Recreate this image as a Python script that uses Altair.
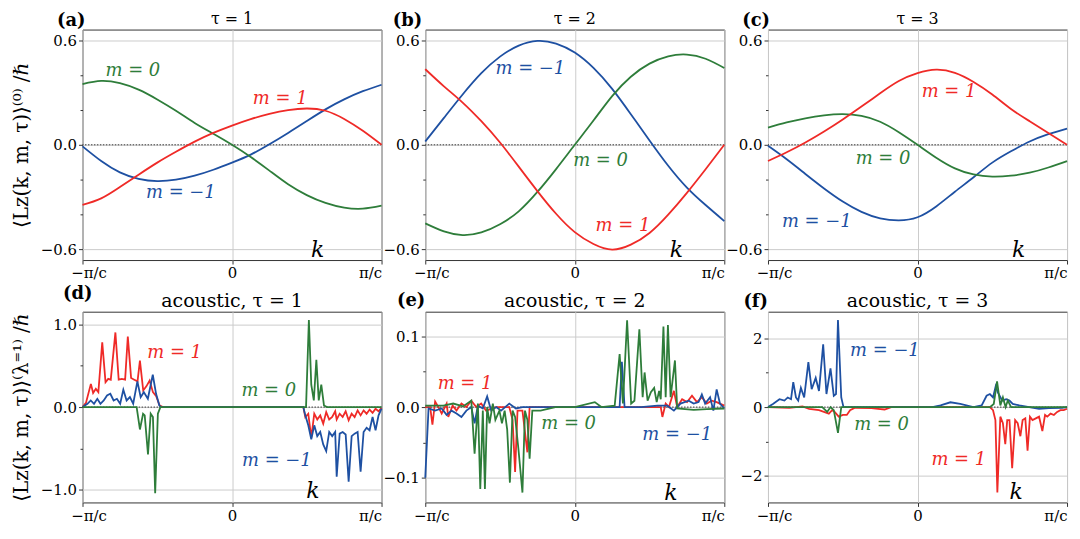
import altair as alt
import pandas as pd

FONT = "DejaVu Serif"
M_NAMES = ["m = −1", "m = 0", "m = 1"]
M_COLORS = ["#1e50a2", "#2e7d3a", "#ef2a27"]

# ---------------- top row: smooth curves, k in units of pi/c ----------------
K_TOP = [-1.0, -0.875, -0.75, -0.625, -0.5, -0.375, -0.25, -0.125, 0.0,
         0.125, 0.25, 0.375, 0.5, 0.625, 0.75, 0.875, 1.0]

A_MM1 = [-0.009, -0.093, -0.158, -0.195, -0.208, -0.2, -0.177, -0.143, -0.102,
         -0.056, 0.003, 0.068, 0.136, 0.203, 0.26, 0.307, 0.344]
A_M0 = [0.348, 0.366, 0.353, 0.316, 0.26, 0.195, 0.125, 0.063, 0.0,
        -0.07, -0.148, -0.226, -0.288, -0.333, -0.36, -0.366, -0.349]
A_M1 = [-0.344, -0.307, -0.242, -0.171, -0.102, -0.04, 0.018, 0.068, 0.11,
        0.147, 0.177, 0.199, 0.208, 0.195, 0.148, 0.08, 0.0]

B_MM1 = [0.019, 0.154, 0.288, 0.41, 0.505, 0.568, 0.595, 0.58, 0.528,
         0.44, 0.32, 0.175, 0.025, -0.12, -0.245, -0.345, -0.437]
B_M0 = [-0.45, -0.496, -0.517, -0.502, -0.455, -0.381, -0.27, -0.139, 0.0,
        0.139, 0.279, 0.39, 0.465, 0.507, 0.517, 0.493, 0.44]
B_M1 = [0.433, 0.335, 0.242, 0.135, 0.013, -0.125, -0.265, -0.395, -0.5,
        -0.568, -0.6, -0.572, -0.505, -0.4, -0.275, -0.14, 0.0]

C_MM1 = [-0.006, -0.083, -0.167, -0.25, -0.325, -0.384, -0.421, -0.433, -0.415,
         -0.353, -0.269, -0.186, -0.102, -0.037, 0.019, 0.061, 0.093]
C_M0 = [0.098, 0.128, 0.152, 0.169, 0.176, 0.165, 0.132, 0.072, 0.0,
        -0.074, -0.135, -0.17, -0.182, -0.177, -0.16, -0.13, -0.093]
C_M1 = [-0.093, -0.043, 0.013, 0.076, 0.145, 0.219, 0.295, 0.365, 0.41,
        0.43, 0.412, 0.36, 0.288, 0.205, 0.135, 0.068, 0.0]

# ---------------- bottom row: acoustic branch (noisy) ----------------
D_MM1_K = [-1.0, -0.967, -0.945, -0.923, -0.901, -0.880, -0.858, -0.836, -0.814, -0.792,
           -0.770, -0.748, -0.727, -0.705, -0.683, -0.661, -0.633, -0.611, -0.590, -0.563,
           -0.530, -0.508, -0.486, -0.475,
           0.477, 0.49, 0.51, 0.53, 0.55, 0.57, 0.59, 0.61, 0.63, 0.65, 0.67, 0.69, 0.70,
           0.72, 0.74, 0.76, 0.78, 0.80, 0.82, 0.84, 0.86, 0.88, 0.90, 0.92, 0.94, 0.96,
           0.98, 1.0]
D_MM1 = [0.0, 0.04, 0.08, 0.04, 0.10, 0.04, 0.08, 0.14, 0.16, 0.08,
         0.10, 0.04, 0.21, 0.08, 0.12, 0.04, 0.31, 0.12, 0.18, 0.10,
         0.39, 0.16, 0.02, 0.0,
         0.0, -0.10, -0.22, -0.39, -0.22, -0.35, -0.30, -0.45, -0.53, -0.30, -0.35, -0.30, -0.84,
         -0.32, -0.30, -0.33, -0.90, -0.35, -0.32, -0.30, -0.78, -0.30, -0.25, -0.28, -0.12, -0.28,
         -0.10, -0.02]
D_M0_K = [-1.0, -0.638, -0.616, -0.595, -0.584, -0.562, -0.544, -0.529, -0.514, -0.496, -0.479,
          0.477, 0.495, 0.514, 0.53, 0.547, 0.564, 0.58, 0.597, 0.615, 0.635, 1.0]
D_M0 = [0.0, 0.0, -0.27, -0.08, -0.10, -0.57, -0.08, -0.12, -1.04, -0.08, 0.0,
        0.0, 0.0, 1.05, 0.27, 0.08, 0.57, 0.08, 0.27, 0.02, 0.0, 0.0]
D_M1_K = [-1.0, -0.977, -0.944, -0.929, -0.911, -0.894, -0.868, -0.846, -0.828, -0.811,
          -0.780, -0.758, -0.737, -0.715, -0.697, -0.675, -0.654, -0.632, -0.616, -0.594,
          -0.573, -0.551, -0.529, -0.507, -0.485, -0.463,
          0.477, 0.49, 0.51, 0.53, 0.55, 0.57, 0.59, 0.61, 0.63, 0.65, 0.67, 0.69, 0.70,
          0.72, 0.74, 0.76, 0.78, 0.80, 0.82, 0.84, 0.86, 0.88, 0.90, 0.92, 0.94, 0.96,
          0.98, 1.0]
D_M1 = [0.0, 0.05, 0.28, 0.17, 0.22, 0.18, 0.78, 0.30, 0.34, 0.33,
        0.90, 0.33, 0.34, 0.33, 0.85, 0.35, 0.33, 0.31, 0.56, 0.20,
        0.25, 0.32, 0.18, 0.13, 0.02, 0.0,
        0.0, -0.12, -0.08, -0.37, -0.08, -0.15, -0.10, -0.20, -0.06, -0.15, -0.12, -0.05, -0.15,
        -0.08, -0.12, -0.05, -0.16, -0.08, -0.12, -0.04, -0.10, -0.04, -0.08, -0.03, -0.07, -0.02,
        -0.05, -0.01]

E_MM1_K = [-1.0, -0.978, -0.934, -0.890, -0.857, -0.824, -0.791, -0.758, -0.725, -0.692,
           -0.670, -0.648, -0.615, -0.586, -0.559, -0.526, -0.493, -0.438, -0.394, -0.350,
           0.300, 0.315, 0.333, 0.443, 0.553, 0.619, 0.663, 0.707, 0.762, 0.795,
           0.828, 0.850, 0.872, 0.905, 0.927, 0.949, 0.971, 1.0]
E_MM1 = [-0.100, -0.002, -0.005, -0.002, -0.011, -0.005, -0.009, -0.014, -0.005, 0.0,
         -0.023, 0.002, -0.002, 0.015, -0.005, 0.0, -0.005, 0.005, -0.002, 0.0,
         0.0, 0.064, 0.0, 0.0, 0.002, 0.002, -0.005, 0.005, 0.009, 0.005,
         0.007, 0.018, 0.005, 0.014, -0.005, 0.025, 0.005, -0.002]
E_M0_K = [-1.0, -0.879, -0.813, -0.747, -0.692, -0.670, -0.648, -0.632, -0.615, -0.601,
          -0.586, -0.570, -0.548, -0.531, -0.504, -0.487, -0.469, -0.452, -0.434, -0.416,
          -0.399, -0.377, -0.350, -0.333, -0.317, -0.302, -0.284, -0.229, -0.130, 0.0,
          0.134, 0.178, 0.267, 0.300, 0.322, 0.350, 0.377, 0.399, 0.432, 0.454,
          0.467, 0.487, 0.509, 0.531, 0.548, 0.564, 0.575, 0.593, 0.608, 0.623,
          0.641, 0.670, 0.685, 0.795, 0.883, 1.0]
E_M0 = [0.002, 0.002, 0.005, 0.001, 0.009, -0.066, 0.005, -0.116, -0.005, -0.116,
        0.0, -0.023, 0.005, -0.018, -0.005, -0.023, -0.005, -0.032, -0.107, -0.005,
        -0.014, -0.059, -0.121, -0.005, -0.018, -0.073, -0.005, -0.005, 0.0, 0.0,
        0.007, 0.0, 0.002, 0.075, 0.005, 0.123, 0.005, 0.009, 0.110, 0.014,
        0.049, 0.009, 0.021, 0.027, 0.007, 0.023, 0.011, 0.114, 0.014, 0.116,
        0.014, 0.066, -0.002, -0.004, -0.003, -0.002]
E_M1_K = [-1.0, -0.967, -0.952, -0.934, -0.912, -0.890, -0.857, -0.846, -0.817, -0.791,
          -0.758, -0.725, -0.692, -0.659, -0.626, -0.593, -0.526, -0.438, -0.416, -0.399,
          -0.383, -0.350, -0.317, -0.302,
          0.575, 0.586, 0.608, 0.630, 0.663, 0.685, 0.718, 0.751, 0.784, 0.817,
          0.850, 0.883, 0.916, 0.949, 1.0]
E_M1 = [0.0, 0.0, -0.025, 0.008, 0.0, -0.009, 0.005, -0.014, 0.002, -0.005,
        0.005, 0.0, 0.009, 0.0, 0.005, -0.005, 0.0, 0.0, -0.018, -0.092,
        -0.005, -0.005, -0.064, 0.0,
        0.0, -0.014, 0.005, 0.0, 0.023, 0.0, 0.011, 0.007, 0.016, 0.007,
        0.014, 0.005, 0.009, 0.007, 0.002]

F_MM1_K = [-1.0, -0.967, -0.923, -0.890, -0.868, -0.846, -0.831, -0.813, -0.798, -0.780,
           -0.758, -0.730, -0.708, -0.681, -0.659, -0.631, -0.609, -0.582, -0.560, -0.545,
           -0.532, -0.510, -0.495, 0.099, 0.154, 0.220, 0.286, 0.374, 0.429, 0.462,
           0.484, 0.505, 0.523, 0.538, 0.567, 0.593, 0.615, 0.637, 0.681, 0.747,
           0.813, 0.879, 0.967, 1.0]
F_MM1 = [0.0, 0.09, 0.23, 0.19, 0.28, 0.23, 0.73, 0.28, 0.19, 0.56,
         0.28, 1.31, 0.52, 0.85, 0.47, 1.83, 0.38, 1.13, 0.33, 0.38,
         2.54, 0.28, 0.0, 0.0, 0.05, 0.14, 0.09, 0.0, 0.05, 0.33,
         0.38, 0.28, 0.61, 0.42, 0.19, 0.23, 0.19, 0.09, 0.05, 0.0,
         -0.05, -0.03, -0.02, 0.0]
F_M0_K = [-1.0, -0.637, -0.604, -0.582, -0.560, -0.532, -0.510,
          0.484, 0.510, 0.532, 0.554, 0.571, 0.589, 0.604, 0.626, 1.0]
F_M0 = [0.0, 0.0, -0.14, 0.0, -0.09, -0.75, 0.0,
        0.0, 0.09, 0.75, 0.05, 0.28, 0.0, 0.19, 0.0, 0.0]
F_M1_K = [-1.0, -0.857, -0.769, -0.725, -0.659, -0.626, -0.593, -0.571, -0.554, -0.527,
          -0.499, -0.473, -0.451, -0.418, -0.308, -0.264, -0.220, -0.176,
          0.484, 0.505, 0.521, 0.534, 0.554, 0.571, 0.587, 0.600, 0.615, 0.633,
          0.653, 0.670, 0.688, 0.703, 0.721, 0.736, 0.752, 0.769, 0.791, 0.813,
          0.835, 0.853, 0.868, 0.890, 0.912, 0.934, 0.956, 0.978, 1.0]
F_M1 = [0.0, -0.02, 0.02, -0.05, -0.09, -0.14, -0.19, -0.09, -0.14, -0.28,
        -0.23, -0.23, -0.09, -0.02, -0.03, -0.05, -0.07, 0.0,
        0.0, -0.09, -0.38, -2.49, -0.28, -0.47, -1.08, -0.38, -0.38, -1.78,
        -0.38, -0.47, -0.85, -0.38, -0.33, -1.27, -0.28, -0.38, -0.33, -0.28,
        -0.70, -0.23, -0.28, -0.19, -0.23, -0.14, -0.09, -0.09, -0.05]

# curve annotations: (text, k, value)
A_LABELS = [("m = 0", -0.663, 0.425), ("m = 1", 0.322, 0.26), ("m = −1", -0.342, -0.274)]
B_LABELS = [("m = −1", -0.297, 0.435), ("m = 0", 0.172, -0.093), ("m = 1", 0.322, -0.463)]
C_LABELS = [("m = 1", 0.211, 0.30), ("m = 0", -0.231, -0.083), ("m = −1", -0.674, -0.444)]
D_LABELS = [("m = 1", -0.384, 0.656), ("m = 0", 0.246, 0.195), ("m = −1", 0.30, -0.645)]
E_LABELS = [("m = 1", -0.734, 0.032), ("m = 0", -0.041, -0.024), ("m = −1", 0.685, -0.039)]
F_LABELS = [("m = −1", -0.218, 1.64), ("m = 0", -0.241, -0.52), ("m = 1", 0.276, -1.55)]
K_POS = {"a": (0.573, -0.60), "b": (0.68, -0.60), "c": (0.676, -0.60),
         "d": (0.541, -1.016), "e": (0.642, -0.121), "f": (0.66, -2.49)}

TITLES = {"a": "τ = 1", "b": "τ = 2", "c": "τ = 3",
          "d": "acoustic, τ = 1", "e": "acoustic, τ = 2", "f": "acoustic, τ = 3"}

YLABEL_TOP = "⟨Lz(k, m, τ)⟩⁽⁰⁾ /ℏ"
YLABEL_BOT = "⟨Lz(k, m, τ)⟩⁽λ⁼¹⁾ /ℏ"

W = 301
H_TOP = 232
H_BOT = 192


def series_df(triples):
    rows = []
    for name, ks, vs in triples:
        for k, v in zip(ks, vs):
            rows.append({"k": k, "L": v, "m": name})
    return pd.DataFrame(rows)


def panel(df, labels, letter, title_size, title_dy, ymax, major, minor, fmt,
          ylabel, h, interp, letter_dx, letter_dy):
    n = int(ymax / minor + 1e-9)
    ticks = [round(i * minor, 6) for i in range(-n, n + 1)]
    is_major = f"abs(datum.value/{major} - round(datum.value/{major})) < 1e-6"
    label_expr = (f"{is_major} ? (abs(datum.value) < 1e-9 ? format(0, '{fmt}') : "
                  f"(datum.value < 0 ? '−' : '') + format(abs(datum.value), '{fmt}')) : ''")
    yaxis_kw = dict(
        values=ticks, labelExpr=label_expr,
        gridOpacity={"condition": {"test": is_major, "value": 1}, "value": 0},
        tickSize={"condition": {"test": is_major, "value": 4}, "value": 2.5},
        minExtent=46, maxExtent=46, titlePadding=5,
    )
    yaxis_kw["title"] = ylabel if ylabel else None
    yaxis = alt.Axis(**yaxis_kw)
    xaxis = alt.Axis(
        values=[-1, 0, 1], title=None, tickSize=4,
        labelExpr="datum.value < -0.5 ? '−π/c' : (datum.value > 0.5 ? 'π/c' : '0')",
        labelAlign={"condition": {"test": "datum.value > 0.5", "value": "right"}, "value": "center"},
        labelOffset={"condition": {"test": "datum.value < -0.5", "value": 6}, "value": 0},
    )
    xs = alt.Scale(domain=[-1, 1], nice=False, zero=False)
    ys = alt.Scale(domain=[-ymax, ymax], nice=False, zero=False)
    color = alt.Color("m:N", scale=alt.Scale(domain=M_NAMES, range=M_COLORS), legend=None)

    zero = alt.Chart(pd.DataFrame({"z": [0.0]})).mark_rule(
        color="#222222", strokeDash=[1.5, 1.5], strokeWidth=0.9
    ).encode(y=alt.Y("z:Q", scale=ys, axis=yaxis))

    lines = alt.Chart(df).mark_line(strokeWidth=1.8, interpolate=interp).encode(
        x=alt.X("k:Q", scale=xs, axis=xaxis),
        y=alt.Y("L:Q", scale=ys, axis=yaxis),
        color=color,
    )

    lab_df = pd.DataFrame([{"t": t, "k": k, "L": v, "m": t} for t, k, v in labels])
    texts = alt.Chart(lab_df).mark_text(
        font=FONT, fontSize=18, fontStyle="italic", align="center", baseline="middle"
    ).encode(
        x=alt.X("k:Q", scale=xs, axis=xaxis),
        y=alt.Y("L:Q", scale=ys, axis=yaxis),
        text="t:N", color=color,
    )

    kx, ky = K_POS[letter]
    k_df = pd.DataFrame({"k": [kx], "L": [ky], "t": ["k"]})
    ktext = alt.Chart(k_df).mark_text(
        font=FONT, fontSize=22, fontStyle="italic", color="black",
        align="center", baseline="middle"
    ).encode(
        x=alt.X("k:Q", scale=xs, axis=xaxis),
        y=alt.Y("L:Q", scale=ys, axis=yaxis),
        text="t:N",
    )

    let_df = pd.DataFrame({"t": [f"({letter})"]})
    ltext = alt.Chart(let_df).mark_text(
        font=FONT, fontSize=18, fontWeight="bold", color="black",
        align="right", baseline="alphabetic"
    ).encode(x=alt.value(letter_dx), y=alt.value(letter_dy), text="t:N")

    tit_df = pd.DataFrame({"t": [TITLES[letter]]})
    ttext = alt.Chart(tit_df).mark_text(
        font=FONT, fontSize=title_size, color="black",
        align="center", baseline="alphabetic"
    ).encode(x=alt.value(W / 2), y=alt.value(title_dy), text="t:N")

    return alt.layer(zero, lines, texts, ktext, ltext, ttext).properties(width=W, height=h)


df_a = series_df([("m = −1", K_TOP, A_MM1), ("m = 0", K_TOP, A_M0), ("m = 1", K_TOP, A_M1)])
df_b = series_df([("m = −1", K_TOP, B_MM1), ("m = 0", K_TOP, B_M0), ("m = 1", K_TOP, B_M1)])
df_c = series_df([("m = −1", K_TOP, C_MM1), ("m = 0", K_TOP, C_M0), ("m = 1", K_TOP, C_M1)])
df_d = series_df([("m = 1", D_M1_K, D_M1), ("m = −1", D_MM1_K, D_MM1), ("m = 0", D_M0_K, D_M0)])
df_e = series_df([("m = 1", E_M1_K, E_M1), ("m = −1", E_MM1_K, E_MM1), ("m = 0", E_M0_K, E_M0)])
df_f = series_df([("m = 1", F_M1_K, F_M1), ("m = −1", F_MM1_K, F_MM1), ("m = 0", F_M0_K, F_M0)])

pa = panel(df_a, A_LABELS, "a", 16, -6, 0.66, 0.6, 0.2, ".1f", YLABEL_TOP, H_TOP, "natural", 3, -4)
pb = panel(df_b, B_LABELS, "b", 16, -6, 0.66, 0.6, 0.2, ".1f", None, H_TOP, "natural", -3, -4)
pc = panel(df_c, C_LABELS, "c", 16, -6, 0.66, 0.6, 0.2, ".1f", None, H_TOP, "natural", 2, -4)
pd_ = panel(df_d, D_LABELS, "d", 19, -5, 1.15, 1.0, 0.5, ".1f", YLABEL_BOT, H_BOT, "linear", 10, -13)
pe = panel(df_e, E_LABELS, "e", 19, -5, 0.135, 0.1, 0.05, ".1f", None, H_BOT, "linear", 0, -6)
pf = panel(df_f, F_LABELS, "f", 19, -5, 2.78, 2.0, 1.0, ".0f", None, H_BOT, "linear", 0, -5)

chart = alt.concat(
    pa, pb, pc, pd_, pe, pf, columns=3,
    spacing={"row": 52, "column": 44}, bounds="flush",
).properties(
    padding={"left": 3, "top": 0, "right": 0, "bottom": 0},
).configure_view(
    stroke="#333333", strokeWidth=1,
).configure_axis(
    labelFont=FONT, labelFontSize=15, labelColor="black", labelPadding=2,
    tickColor="#333333", tickWidth=1, domain=False,
    gridColor="#cccccc", gridWidth=1,
    titleFont=FONT, titleFontSize=20, titleFontWeight="normal", titleColor="black",
)

chart.save("out.html", embed_options={"renderer": "svg", "actions": False})
